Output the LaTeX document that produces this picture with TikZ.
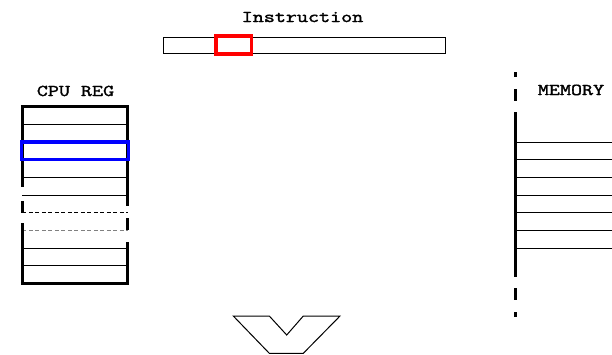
\documentclass[tikz,border=0pt]{standalone}
\usepackage{fontspec}
\newfontfamily\lblfont[FakeBold=2,FakeStretch=1.3]{Latin Modern Mono}
\begin{document}
\begin{tikzpicture}[x=1pt,y=-1pt,
  lbl/.style={font=\lblfont\bfseries\fontsize{16.5}{16.5}\selectfont, anchor=base, inner sep=0pt},
  thickline/.style={line width=3pt},
  thinline/.style={line width=0.9pt},
  dashline/.style={line width=0.9pt, dash pattern=on 4pt off 2.5pt},
  hilite/.style={line width=3.5pt}]
\useasboundingbox (0,0) rectangle (612,354);
% Instruction
\node[lbl] (instr) at (302.5,22) {Instruction};
\draw[line width=1.2pt] (163.2,37.2) rectangle (445.2,53.8);
\draw[hilite, red] (216.2,36.2) rectangle (251.3,53.8);
% CPU REG
\node[lbl] (cpu) at (75.5,96) {CPU REG};
\foreach \y in {124.4,177.3,195,248,265.6}
  \draw[thinline] (22.3,\y) -- (127.7,\y);
\draw[dashline] (22.3,212.7) -- (127.7,212.7);
\draw[dashline, gray] (22.3,230.3) -- (127.7,230.3);
\draw[thickline] (20.8,106.7) -- (129.2,106.7);
\draw[thickline] (20.8,283.3) -- (129.2,283.3);
\draw[thickline] (22.3,106.7) -- (22.3,187);
\draw[thickline] (22.3,201) -- (22.3,212.7);
\draw[thickline] (22.3,223) -- (22.3,283.3);
\draw[thickline] (127.7,106.7) -- (127.7,206);
\draw[thickline] (127.7,218) -- (127.7,230);
\draw[thickline] (127.7,242) -- (127.7,283.3);
\draw[hilite, blue] (21.7,142) rectangle (128.3,159.3);
% MEMORY
\node[lbl] (mem) at (571,95) {MEMORY};
\foreach \y in {142,159.7,177.3,195,212.7,230.3,248}
  \draw[thinline] (515.5,\y) -- (612,\y);
\draw[thickline] (515.5,72) -- (515.5,77);
\draw[thickline] (515.5,89) -- (515.5,101);
\draw[thickline] (515.5,112) -- (515.5,277);
\draw[thickline] (515.5,288) -- (515.5,300);
\draw[thickline] (515.5,312) -- (515.5,317);
% chevron
\draw[line width=1pt, line join=miter] (233.3,316) -- (269.3,316) -- (286.7,335) -- (303.3,316) -- (340,316) -- (303.3,353.3) -- (269.3,353.3) -- cycle;
\end{tikzpicture}
\end{document}
